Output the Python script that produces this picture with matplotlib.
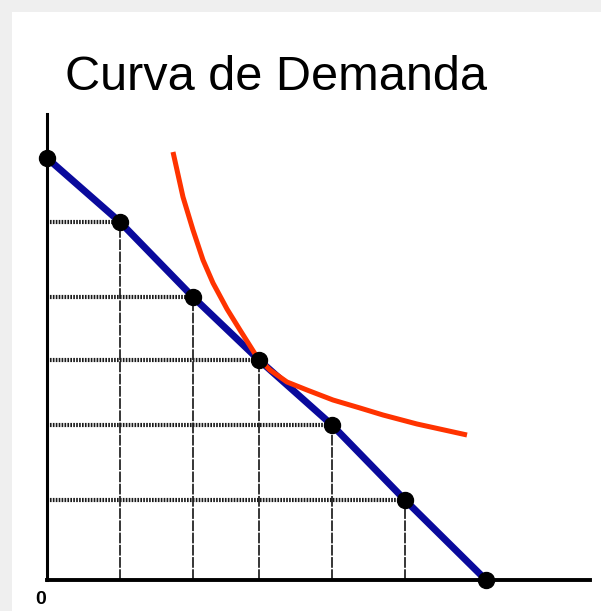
import matplotlib.pyplot as plt
import matplotlib.patches as patches

# demand line points (quantity, price), origin at the axes corner
quantity = [0, 73, 146, 212, 285, 358, 439]
price = [422, 358, 283, 220, 155, 80, 0]

# red curve
curve_x = [126, 136, 146, 156, 166, 180, 193, 210, 223, 240, 260, 286, 313, 336, 370, 420]
curve_y = [428, 383, 350, 320, 297, 271, 250, 223, 210, 198, 190, 180, 172, 165, 156, 145]

title = "Curva de Demanda"
origin_label = "0"

W, H = 601, 611
fig = plt.figure(figsize=(W / 100, H / 100), dpi=100)
fig.patch.set_facecolor("#efefef")
# white panel with a light gray border on top and left
fig.patches.append(patches.Rectangle((12 / W, 0), 1 - 12 / W, 1 - 12 / H,
                                     transform=fig.transFigure,
                                     facecolor="white", edgecolor="none", zorder=-5))

ax = fig.add_axes([47 / W, 31 / H, 543 / W, 466 / H])
ax.set_zorder(2)
ax.set_facecolor("none")
ax.set_xlim(0, 543)
ax.set_ylim(0, 466)

# guide lines from every inner point to the axes
for q, p in zip(quantity[1:-1], price[1:-1]):
    ax.plot([0, q], [p, p], color="#1a1a1a", lw=3.0,
            linestyle=(0, (0.4, 0.3)), solid_capstyle="butt", zorder=2)
    ax.plot([q, q], [0, p], color="black", lw=1.1,
            linestyle=(0, (7, 1)), zorder=2)

ax.plot(quantity, price, color="#0a0a9c", lw=5, zorder=3, solid_capstyle="butt")
ax.plot(curve_x, curve_y, color="#ff3300", lw=3.6, zorder=4,
        solid_capstyle="butt", solid_joinstyle="round")
ax.plot(quantity, price, "o", color="black", ms=11.5, zorder=5, clip_on=False)

for side in ["top", "right"]:
    ax.spines[side].set_visible(False)
ax.spines["left"].set_linewidth(2.2)
ax.spines["bottom"].set_linewidth(2.8)
ax.set_xticks([])
ax.set_yticks([])

fig.text(65 / W, 1 - 90 / H, title, fontsize=35, family="Liberation Sans",
         va="baseline", ha="left", zorder=3)
fig.text(41 / W, 1 - 600 / H, origin_label, fontsize=14, fontweight="bold",
         family="Liberation Sans", va="center", ha="center", zorder=3)

fig.savefig("out.png", dpi=100)
